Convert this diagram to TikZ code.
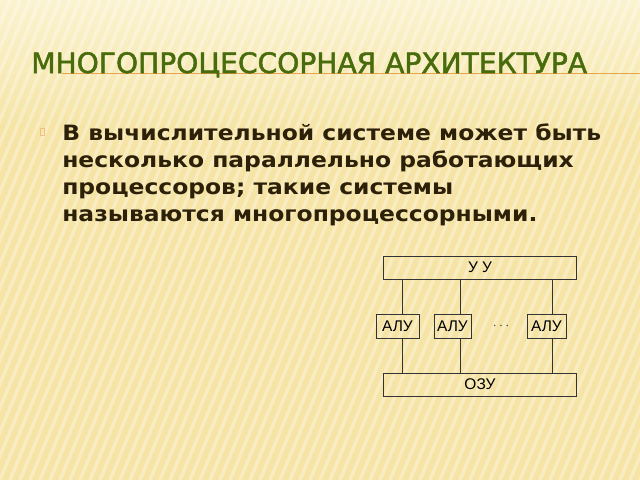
\documentclass[tikz,border=0pt]{standalone}
\usepackage{fontspec}
\setmainfont{DejaVu Sans}
\newfontfamily\titlefont{DejaVu Sans}[FakeBold=1.8]
\newfontfamily\bodyfont{DejaVu Sans}[FakeStretch=1.11]
\newfontfamily\boxfont{Liberation Sans}
\definecolor{bgtan}{RGB}{245,228,165}
\definecolor{bglight}{RGB}{251,243,208}
\definecolor{titlegreen}{RGB}{72,108,12}
\definecolor{textbrown}{RGB}{45,32,8}
\definecolor{rulebrown}{RGB}{232,165,80}
\tikzset{
  blk/.style={draw=black!80, line width=0.7pt, inner sep=0pt,
    font=\boxfont\fontsize{11pt}{13pt}\selectfont},
  bus/.style={draw=black!80, line width=0.7pt}
}

\begin{document}
\begin{tikzpicture}[x=0.025cm,y=-0.025cm]
    \useasboundingbox (0,0) rectangle (640,480);
    % background
    \fill[bgtan] (0,0) rectangle (640,480);
    \shade[top color=bglight, bottom color=bgtan] (0,0) rectangle (640,130);
    \begin{scope}
    \clip (0,0) rectangle (640,480);
    \foreach \i in {-22,...,64}
    \draw[white, opacity=0.3, line width=2.5pt] (\i*10,480) -- (\i*10+200,0);
    \end{scope}
    % title
    \draw[rulebrown, line width=1.1pt] (62,73.5) -- (640,73.5);
    \node[anchor=base west, inner sep=0pt, text=titlegreen,
      font=\titlefont\fontsize{20pt}{24pt}\selectfont] (title) at (31,73)
      {МНОГОПРОЦЕССОРНАЯ АРХИТЕКТУРА};
    % bullet
    \draw[rulebrown!70, line width=0.4pt] (40,128) rectangle (44.5,135.5);
    \node[anchor=north west, inner sep=0pt, align=left, text=textbrown,
      font=\bodyfont\bfseries\fontsize{15pt}{19.1pt}\selectfont] (txt) at (62,124)
      {В вычислительной системе может быть\\
       несколько параллельно работающих\\
       процессоров; такие системы\\
       называются многопроцессорными.};
    % scheme
    \node[blk, minimum width=4.8cm, minimum height=0.575cm] (uu) at (480,267.5) {У У};
    \node[blk, minimum width=1.075cm, minimum height=0.6cm] (alu1) at (397.5,326) {АЛУ};
    \node[blk, minimum width=0.925cm, minimum height=0.6cm] (alu2) at (452.5,326) {АЛУ};
    \node[blk, minimum width=0.975cm, minimum height=0.6cm] (alu3) at (546.5,326) {АЛУ};
    \node[blk, minimum width=4.8cm, minimum height=0.575cm] (ozu) at (480,384.5) {ОЗУ};
    \node[text=black!75, inner sep=0pt] (dots) at (501,326) {$\cdots$};
    \coordinate (b1) at (402,326);
    \coordinate (b2) at (460,326);
    \coordinate (b3) at (552,326);
    \foreach \b/\a in {b1/alu1,b2/alu2,b3/alu3}
    {
    \draw[bus] (\b |- uu.south) -- (\b |- \a.north);
    \draw[bus] (\b |- \a.south) -- (\b |- ozu.north);
    }
\end{tikzpicture}
\end{document}
